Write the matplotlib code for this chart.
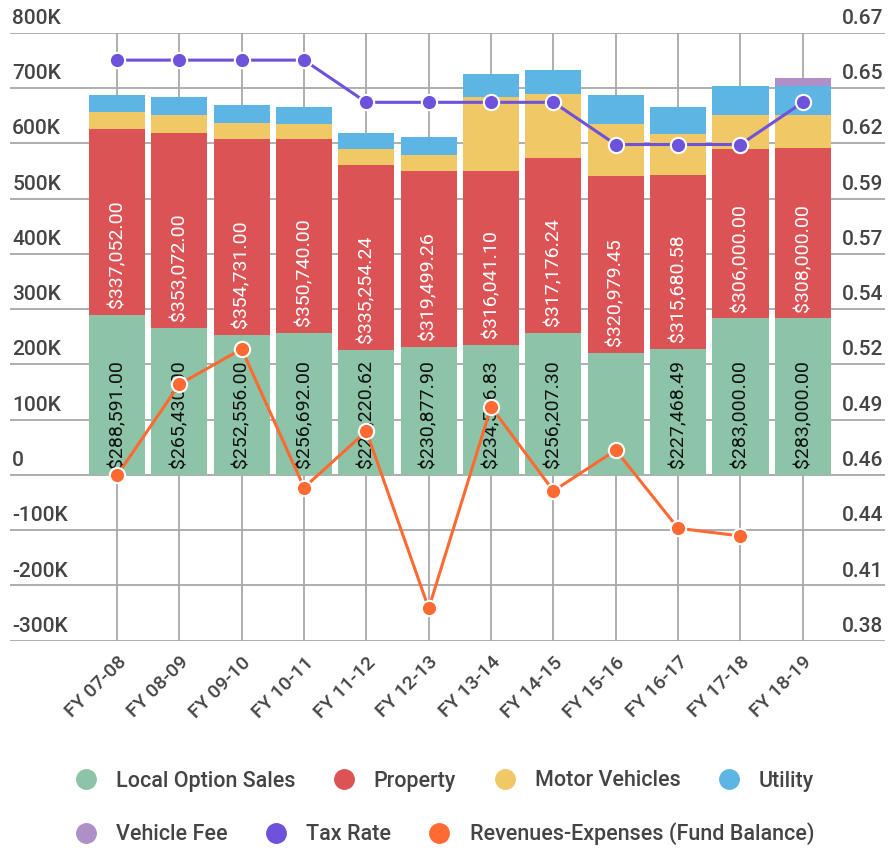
import numpy as np
import matplotlib
matplotlib.use("Agg")
import matplotlib.pyplot as plt
from matplotlib.lines import Line2D

plt.rcParams['font.family'] = ['Roboto', 'DejaVu Sans']

years = ['FY 07-08', 'FY 08-09', 'FY 09-10', 'FY 10-11', 'FY 11-12', 'FY 12-13',
         'FY 13-14', 'FY 14-15', 'FY 15-16', 'FY 16-17', 'FY 17-18', 'FY 18-19']

local_sales = [288591.00, 265430.00, 252556.00, 256692.00, 226220.62, 230877.90,
               234516.83, 256207.30, 220000.00, 227468.49, 283000.00, 283000.00]
local_labels = ['$288,591.00', '$265,430.00', '$252,556.00', '$256,692.00', '$226,220.62',
                '$230,877.90', '$234,516.83', '$256,207.30', None, '$227,468.49',
                '$283,000.00', '$283,000.00']
property_tax = [337052.00, 353072.00, 354731.00, 350740.00, 335254.24, 319499.26,
                316041.10, 317176.24, 320979.45, 315680.58, 306000.00, 308000.00]
property_labels = ['$337,052.00', '$353,072.00', '$354,731.00', '$350,740.00', '$335,254.24',
                   '$319,499.26', '$316,041.10', '$317,176.24', '$320,979.45', '$315,680.58',
                   '$306,000.00', '$308,000.00']
motor_vehicles = [31500, 33000, 30000, 27000, 28500, 29000, 133000, 116000, 93000, 73000, 62500, 60600]
utility = [31000, 32000, 32000, 31000, 29000, 31500, 41000, 43500, 52600, 49700, 52600, 52600]
vehicle_fee = [0, 0, 0, 0, 0, 0, 0, 0, 0, 0, 0, 14500]
tax_rate = [0.66, 0.66, 0.66, 0.66, 0.64, 0.64, 0.64, 0.64, 0.62, 0.62, 0.62, 0.64]
fund_balance = [-1000, 164000, 227700, -23000, 79000, -241500, 123000, -29000, 44700, -96600, -110500, np.nan]

left_ticks = [-300000, -200000, -100000, 0, 100000, 200000, 300000, 400000, 500000, 600000, 700000, 800000]
left_labels = ['-300K', '-200K', '-100K', '0', '100K', '200K', '300K', '400K', '500K', '600K', '700K', '800K']
right_lo, right_hi = 0.3848, 0.673

c_green = '#8dc3a7'
c_red = '#dc5356'
c_yellow = '#f0c865'
c_blue = '#5db5e3'
c_purple = '#ae8fc8'
c_tax = '#6e52db'
c_orange = '#ff6a33'
grid_c = '#a8a8a8'
text_c = '#444444'
fw = 'medium'

fig = plt.figure(figsize=(8.89, 8.5), dpi=100)
ax = fig.add_axes([10 / 889, 1 - 640.7 / 850, 875 / 889, (640.7 - 32.7) / 850])
x = np.arange(len(years))
ax.set_xlim(-1.716, 12.318)
ax.set_ylim(-300000, 800000)

for v in left_ticks:
    ax.axhline(v, color=grid_c, lw=1.3, zorder=1)
for xi in x:
    ax.axvline(xi, color=grid_c, lw=1.3, zorder=1)

w = 0.9
b1 = np.array(local_sales)
b2 = b1 + np.array(property_tax)
b3 = b2 + np.array(motor_vehicles)
b4 = b3 + np.array(utility)
ax.bar(x, local_sales, w, color=c_green, zorder=2)
ax.bar(x, property_tax, w, bottom=b1, color=c_red, zorder=2)
ax.bar(x, motor_vehicles, w, bottom=b2, color=c_yellow, zorder=2)
ax.bar(x, utility, w, bottom=b3, color=c_blue, zorder=2)
ax.bar(x, vehicle_fee, w, bottom=b4, color=c_purple, zorder=2)

for i in x:
    if local_labels[i]:
        ax.annotate(local_labels[i], (i, 0), xytext=(0, 5), textcoords='offset points',
                    rotation=90, ha='center', va='bottom', fontsize=14, color='#111111', zorder=3)
    ax.annotate(property_labels[i], (i, b1[i]), xytext=(0, 5), textcoords='offset points',
                rotation=90, ha='center', va='bottom', fontsize=14, color='white', zorder=3)

ax.plot(x, fund_balance, color=c_orange, lw=2.2, marker='o', ms=11,
        mfc=c_orange, mec='white', mew=1.5, zorder=5)

ax2 = ax.twinx()
ax2.set_ylim(right_lo, right_hi)
ax2.plot(x, tax_rate, color=c_tax, lw=2.2, marker='o', ms=11,
         mfc=c_tax, mec='white', mew=1.5, zorder=5)

for a in (ax, ax2):
    a.set_yticks([])
    for s in a.spines.values():
        s.set_visible(False)

# axis labels sit above their gridlines
for v, lab in zip(left_ticks, left_labels):
    ax.annotate(lab, (0, v), xycoords=('axes fraction', 'data'), xytext=(1.5, 3.5),
                textcoords='offset points', ha='left', va='bottom', fontsize=15,
                color=text_c, fontweight=fw)
right_vals = np.linspace(right_lo, right_hi, len(left_ticks))
for v in right_vals:
    ax2.annotate('%.2f' % v, (1, v), xycoords=('axes fraction', 'data'), xytext=(-1.5, 3.5),
                 textcoords='offset points', ha='right', va='bottom', fontsize=15,
                 color=text_c, fontweight=fw)

ax.set_xticks(x)
ax.set_xticklabels(years, rotation=45, ha='right', rotation_mode='anchor',
                   fontsize=14, color=text_c, fontweight=fw)
ax.tick_params(axis='x', length=0, pad=9)

def handle(c):
    return Line2D([], [], ls='none', marker='o', ms=14, mfc=c, mec=c)

leg1 = fig.legend([handle(c_green), handle(c_red), handle(c_yellow), handle(c_blue)],
                  ['Local Option Sales', 'Property', 'Motor Vehicles', 'Utility'],
                  loc='center', bbox_to_anchor=(0.5, 1 - 781 / 850), ncol=4, frameon=False,
                  prop={'size': 15.5, 'weight': fw}, handlelength=1, handletextpad=0.9,
                  columnspacing=1.75, labelcolor=text_c)
leg2 = fig.legend([handle(c_purple), handle(c_tax), handle(c_orange)],
                  ['Vehicle Fee', 'Tax Rate', 'Revenues-Expenses (Fund Balance)'],
                  loc='center', bbox_to_anchor=(0.5, 1 - 834 / 850), ncol=3, frameon=False,
                  prop={'size': 15.5, 'weight': fw}, handlelength=1, handletextpad=0.9,
                  columnspacing=1.75, labelcolor=text_c)

fig.savefig('out.png', dpi=100)
